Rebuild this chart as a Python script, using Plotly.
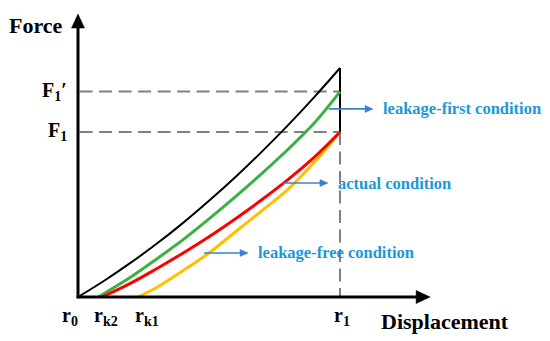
import plotly.graph_objects as go

# ---- data (schematic units: r1 = 10) ----
black_x = [0, 1, 2, 3, 4, 5, 6, 7, 8, 9, 10]
black_y = [0, 0.62, 1.30, 2.03, 2.82, 3.67, 4.57, 5.53, 6.54, 7.61, 8.74]
green_x = [0.78, 2, 3, 4, 5, 6, 7, 8, 9, 10]
green_y = [0, 0.75, 1.45, 2.18, 2.98, 3.82, 4.70, 5.62, 6.62, 7.84]
red_x = [0.92, 2, 3, 4, 5, 6, 7, 8, 9, 10]
red_y = [0, 0.52, 1.08, 1.67, 2.30, 2.98, 3.70, 4.47, 5.32, 6.30]
yellow_x = [2.29, 3, 4, 5, 6, 7, 8, 9, 10]
yellow_y = [0, 0.36, 1.00, 1.68, 2.48, 3.28, 4.10, 5.12, 6.30]

R0, RK2, RK1, R1 = 0, 0.78, 2.29, 10
F1, F1P, TOP = 6.30, 7.84, 8.74
X_END, Y_END = 13.44, 10.80
x_tick_pos = [R0, RK2, RK1, R1]
x_tick_text = ["r<sub>0</sub>", "r<sub>k2</sub>", "r<sub>k1</sub>", "r<sub>1</sub>"]
x_tick_shift = [-8, 8, 9, 2]
y_tick_pos = [F1P, F1]
y_tick_text = ["F<sub>1</sub>′", "F<sub>1</sub>"]

callout_text = ["leakage-first condition", "actual condition", "leakage-free condition"]
callout_y = [7.18, 4.35, 1.68]
callout_x0 = [9.57, 7.82, 4.81]
callout_x1 = [11.26, 9.54, 6.49]

SERIF = "Liberation Serif"
BLUE_T = "#1c98d8"
BLUE_A = "#3a80d0"
PX = 26.2  # pixels per data unit (both axes)

fig = go.Figure()
shapes = []


def head(tx, ty, direction, length_px, half_px, color):
    L = length_px / PX
    H = half_px / PX
    if direction == "up":
        pts = [(tx - H, ty - L), (tx, ty), (tx + H, ty - L)]
    else:
        pts = [(tx - L, ty - H), (tx, ty), (tx - L, ty + H)]
    path = "M {} {} L {} {} L {} {} Z".format(*[v for p in pts for v in p])
    shapes.append(dict(type="path", path=path, xref="x", yref="y",
                       fillcolor=color, line=dict(color=color, width=0.5)))
    return L


grey = dict(color="#808080", width=2, dash="13px,6.5px")
fig.add_trace(go.Scatter(x=[R0 + 0.06, R1], y=[F1P, F1P], mode="lines", line=grey, hoverinfo="skip"))
fig.add_trace(go.Scatter(x=[R0 + 0.06, R1], y=[F1, F1], mode="lines", line=grey, hoverinfo="skip"))
fig.add_trace(go.Scatter(x=[R1, R1], y=[F1, 0], mode="lines", line=grey, hoverinfo="skip"))

# curves
fig.add_trace(go.Scatter(x=black_x, y=black_y, mode="lines",
                         line=dict(color="black", width=2, shape="spline"), hoverinfo="skip"))
fig.add_trace(go.Scatter(x=[R1, R1], y=[TOP, F1], mode="lines",
                         line=dict(color="black", width=2), hoverinfo="skip"))
fig.add_trace(go.Scatter(x=green_x, y=green_y, mode="lines",
                         line=dict(color="#3cb043", width=3, shape="spline"), hoverinfo="skip"))
fig.add_trace(go.Scatter(x=yellow_x, y=yellow_y, mode="lines",
                         line=dict(color="#ffc000", width=3, shape="spline"), hoverinfo="skip"))
fig.add_trace(go.Scatter(x=red_x, y=red_y, mode="lines",
                         line=dict(color="#ff0000", width=3, shape="spline"), hoverinfo="skip"))

# axes with arrowheads
Ly = head(R0, Y_END, "up", 14, 6.5, "black")
Lx = head(X_END, 0, "right", 14, 6.5, "black")
fig.add_trace(go.Scatter(x=[R0, R0], y=[-0.05, Y_END - Ly + 0.05], mode="lines",
                         line=dict(color="black", width=3), hoverinfo="skip"))
fig.add_trace(go.Scatter(x=[R0 - 0.05, X_END - Lx + 0.05], y=[0, 0], mode="lines",
                         line=dict(color="black", width=3), hoverinfo="skip"))

ann = []
ann.append(dict(x=-1.60, y=10.38, text="<b>Force</b>", showarrow=False,
                font=dict(family=SERIF, size=22, color="black")))
ann.append(dict(x=14.01, y=-0.92, text="<b>Displacement</b>", showarrow=False,
                font=dict(family=SERIF, size=22, color="black")))
for xv, t, s in zip(x_tick_pos, x_tick_text, x_tick_shift):
    ann.append(dict(x=xv, y=-0.74, text="<b>" + t + "</b>", showarrow=False, xshift=s,
                    font=dict(family=SERIF, size=20, color="black")))
for yv, t in zip(y_tick_pos, y_tick_text):
    ann.append(dict(x=-0.36, y=yv, text="<b>" + t + "</b>", showarrow=False, xanchor="right",
                    font=dict(family=SERIF, size=20, color="black")))

# blue callouts
for txt, x0, yv, x1 in zip(callout_text, callout_x0, callout_y, callout_x1):
    L = head(x1, yv, "right", 8, 3.5, BLUE_A)
    fig.add_trace(go.Scatter(x=[x0, x1 - L + 0.02], y=[yv, yv], mode="lines",
                             line=dict(color=BLUE_A, width=1.6), hoverinfo="skip"))
    ann.append(dict(x=x1 + 0.3, y=yv, text="<b>" + txt + "</b>", showarrow=False, xanchor="left",
                    font=dict(family=SERIF, size=16.5, color=BLUE_T)))

# page body has an 8px margin: shift ranges so data pixels land where the reference has them
fig.update_layout(
    width=550, height=341, autosize=False,
    margin=dict(l=0, r=0, t=0, b=0),
    font=dict(family=SERIF, size=16, color="black"),
    paper_bgcolor="white", plot_bgcolor="white",
    showlegend=False,
    xaxis=dict(range=[-2.672, 18.32], visible=False, fixedrange=True),
    yaxis=dict(range=[-1.985, 11.031], visible=False, fixedrange=True),
    annotations=ann,
    shapes=shapes,
)

fig.write_html("out.html")
